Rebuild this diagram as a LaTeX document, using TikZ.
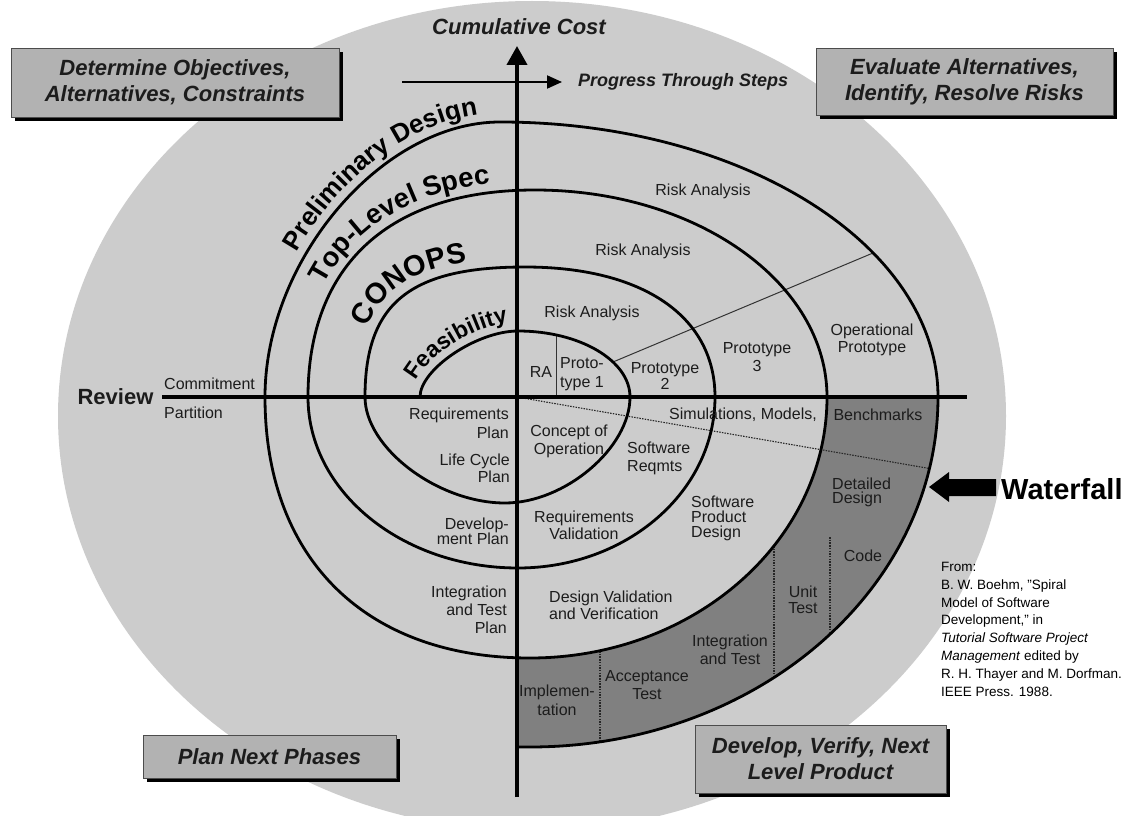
\documentclass[tikz,border=0pt]{standalone}
\usepackage{fontspec}
\setmainfont{Liberation Sans}
\usetikzlibrary{arrows.meta,decorations.text,shadows}

\definecolor{ovalgray}{RGB}{204,204,204}
\definecolor{boxgray}{RGB}{178,178,178}
\definecolor{bandgray}{RGB}{128,128,128}
\definecolor{inkgray}{RGB}{28,28,28}

% fonts for the phase names written along the spiral
\newcommand\spiralprelim{\fontsize{26}{26}\selectfont\bfseries}
\newcommand\spiraltop{\fontsize{27.5}{27.5}\selectfont\bfseries}
\newcommand\spiralconops{\fontsize{29}{29}\selectfont\bfseries}
\newcommand\spiralfeas{\fontsize{23}{23}\selectfont\bfseries}

\begin{document}
\begin{tikzpicture}[x=1pt,y=-1pt,
  axisline/.style={line width=4pt, black},
  spiral/.style={line width=2.8pt, black},
  thinrule/.style={line width=1pt, black!80},
  dotrule/.style={line width=1.1pt, black!85, dash pattern=on 1.5pt off 1.2pt},
  phasebox/.style={draw=black!70, line width=0.8pt, fill=boxgray, inner sep=0pt,
    align=center, text=inkgray, font=\fontsize{22}{26}\selectfont\bfseries\itshape,
    drop shadow={shadow xshift=4pt, shadow yshift=-4pt, fill=black, opacity=1}},
  lbl/.style={inner sep=0pt, text=inkgray, font=\fontsize{16}{18}\selectfont},
  citetext/.style={inner sep=0pt, align=left, text=black, font=\fontsize{13.5}{17.8}\selectfont},
  % quarter turn: vertical tangent at the start, horizontal at the end
  vh/.style n args={5}{insert path={.. controls (#1,{#2+#5*(#4-#2)}) and ({#3+#5*(#1-#3)},#4) .. (#3,#4)}},
  % quarter turn: horizontal tangent at the start, vertical at the end
  hv/.style n args={5}{insert path={.. controls ({#1+#5*(#3-#1)},#2) and (#3,{#4+#5*(#2-#4)}) .. (#3,#4)}},
  phasename/.style n args={2}{decorate, decoration={text along path,
    text align={align=right, right indent=#2}, text={#1}}}
]
\useasboundingbox (0,0) rectangle (1133,816);
\fill[white] (0,0) rectangle (1133,816);

% the quadrant oval
\fill[ovalgray] (532,416) ellipse [x radius=474pt, y radius=415pt];

% waterfall band in the lower right quadrant
\fill[bandgray] (827,397) -- (938,397)
  arc[start angle=0, end angle=-90, x radius=408pt, y radius=350pt]
  -- (517,747) -- (517,658) -- (530,658)
  arc[start angle=-90, end angle=0, x radius=297pt, y radius=261pt] -- cycle;

% dotted dividers
\coordinate (origin) at (517,397);
\coordinate (waterend) at (929.5,468.5);
\draw[dotrule] (origin) -- (waterend);
\draw[dotrule] (600,651) -- (600,742);
\draw[dotrule] (774,546) -- (774,677);
\draw[dotrule] (830,537) -- (830,634);

% prototype dividers
\draw[thinrule] (556,335) -- (556,397);
\draw[thinrule] (613,362) -- (873,253);

% the spiral, clockwise from the centre
\draw[spiral] (420,397)
  [vh={420}{397}{518}{331}{0.42}]
  [hv={518}{331}{630}{397}{0.5523}]
  [vh={630}{397}{505}{503}{0.48}]
  [hv={505}{503}{365}{397}{0.48}]
  [vh={365}{397}{525}{267}{0.72}]
  [hv={525}{267}{715}{397}{0.62}]
  [vh={715}{397}{518}{568}{0.5523}]
  [hv={518}{568}{308}{397}{0.5523}]
  [vh={308}{397}{535}{190}{0.64}]
  [hv={535}{190}{827}{397}{0.5523}]
  [vh={827}{397}{530}{658}{0.5523}]
  [hv={530}{658}{265}{397}{0.62}]
  [vh={265}{397}{500}{122}{0.5}]
  [hv={500}{122}{938}{397}{0.5523}]
  [vh={938}{397}{530}{747}{0.5523}]
  -- (517,747);

% axes
\coordinate (costbase) at (517,797);
\coordinate (costtip) at (517,46);
\coordinate (reviewleft) at (162,397);
\coordinate (reviewright) at (967,397);
\draw[axisline] (reviewleft) -- (reviewright);
\draw[axisline, -{Triangle[length=19pt, width=20pt]}] (costbase) -- (costtip);

\node[inner sep=0pt, text=inkgray, font=\fontsize{22}{22}\selectfont\bfseries\itshape] (costlabel) at (519,27) {Cumulative Cost};
\coordinate (progstart) at (402,82);
\coordinate (progend) at (562,82);
\draw[line width=2pt, -{Triangle[length=15pt, width=13pt]}] (progstart) -- (progend);
\node[inner sep=0pt, anchor=west, text=inkgray, font=\fontsize{18}{18}\selectfont\bfseries\itshape] (proglabel) at (578,82) {Progress Through Steps};

% phase names along the spiral
\path[phasename={|\spiralfeas|Feasibility}{10pt}] (411,397) [vh={411}{397}{518}{322}{0.42}];
\path[phasename={|\spiralconops|CONOPS}{58pt}] (356,397) [vh={356}{397}{525}{258}{0.72}];
\path[phasename={|\spiraltop|Top-Level Spec}{45pt}] (299,397) [vh={299}{397}{535}{181}{0.64}];
\path[phasename={|\spiralprelim|Preliminary Design}{22pt}] (256,397) [vh={256}{397}{500}{113}{0.5}];

% review line labels
\node[inner sep=0pt, text=inkgray, font=\fontsize{22}{22}\selectfont\bfseries] (review) at (115.5,397) {Review};
\node[lbl, anchor=west] (commit) at (164,384) {Commitment};
\node[lbl, anchor=west] (partition) at (164,413) {Partition};

% upper right quadrant
\node[lbl] (risk3) at (703,191) {Risk Analysis};
\node[lbl] (risk2) at (643,251) {Risk Analysis};
\node[lbl] (risk1) at (592,313) {Risk Analysis};
\node[lbl, align=center, font=\fontsize{16}{17}\selectfont] (opproto) at (872,340) {Operational\\Prototype};
\node[lbl, align=center] (proto3) at (757,357) {Prototype\\3};
\node[lbl, align=center, font=\fontsize{16}{16}\selectfont] (proto2) at (665,376) {Prototype\\2};
\node[lbl, align=center, font=\fontsize{16}{19}\selectfont] (proto1) at (582,374) {Proto-\\type 1};
\node[lbl] (ra) at (541,372) {RA};

% lower left quadrant
\node[lbl, align=right, anchor=east, font=\fontsize{16}{19}\selectfont] (reqplan) at (509,423) {Requirements\\Plan};
\node[lbl, align=right, anchor=east, font=\fontsize{16}{17}\selectfont] (lcplan) at (510,468) {Life Cycle\\Plan};
\node[lbl, align=right, anchor=east, font=\fontsize{16}{15}\selectfont] (devplan) at (509,531) {Develop-\\ment Plan};
\node[lbl, align=right, anchor=east, font=\fontsize{16}{18}\selectfont] (itplan) at (507,610) {Integration\\and Test\\Plan};

% lower right quadrant
\node[lbl, align=center] (concept) at (569,441) {Concept of\\Operation};
\node[lbl, align=left, anchor=west] (swreq) at (627,458) {Software\\Reqmts};
\node[lbl, anchor=west] (sims) at (669,415) {Simulations, Models,};
\node[lbl] (bench) at (878,415) {Benchmarks};
\node[lbl, align=center, font=\fontsize{16}{17}\selectfont] (reqval) at (584,525) {Requirements\\Validation};
\node[lbl, align=left, anchor=west, font=\fontsize{16}{15}\selectfont] (swprod) at (691,518) {Software\\Product\\Design};
\node[lbl, align=left, anchor=west, font=\fontsize{16}{17}\selectfont] (desval) at (549,605) {Design Validation\\and Verification};
\node[lbl, align=left, anchor=west, font=\fontsize{16}{14}\selectfont] (detdes) at (832,492) {Detailed\\Design};
\node[lbl] (code) at (863,556) {Code};
\node[lbl, align=center, font=\fontsize{16}{16}\selectfont] (unittest) at (803,600) {Unit\\Test};
\node[lbl, align=center] (inttest) at (730,650) {Integration\\and Test};
\node[lbl, align=center] (acctest) at (647,685) {Acceptance\\Test};
\node[lbl, align=center, font=\fontsize{16}{19}\selectfont] (impl) at (557,700) {Implemen-\\tation};

% quadrant boxes
\node[phasebox, minimum width=328pt, minimum height=69pt] (objectives) at (175,82.5) {Determine Objectives,\\Alternatives, Constraints};
\node[phasebox, minimum width=297pt, minimum height=67pt] (risks) at (964.5,81.5) {Evaluate Alternatives,\\Identify, Resolve Risks};
\node[phasebox, minimum width=253pt, minimum height=43pt] (plan) at (269.5,756.5) {Plan Next Phases};
\node[phasebox, minimum width=251pt, minimum height=68pt] (develop) at (820.5,759) {Develop, Verify, Next\\Level Product};

% waterfall marker
\fill[black] (929,487) -- (949,472) -- (949,479) -- (996,479) -- (996,496) -- (949,496) -- (949,502) -- cycle;
\node[inner sep=0pt, anchor=west, font=\fontsize{29}{29}\selectfont\bfseries] (waterfall) at (1001,489) {Waterfall};

% source
\node[citetext, anchor=north west] (source) at (941,562) {From:\\B. W. Boehm, "Spiral\\Model of Software\\Development," in\\\textit{Tutorial Software Project}\\\textit{Management} edited by\\R. H. Thayer and M. Dorfman.\\IEEE Press. 1988.};
\end{tikzpicture}
\end{document}
